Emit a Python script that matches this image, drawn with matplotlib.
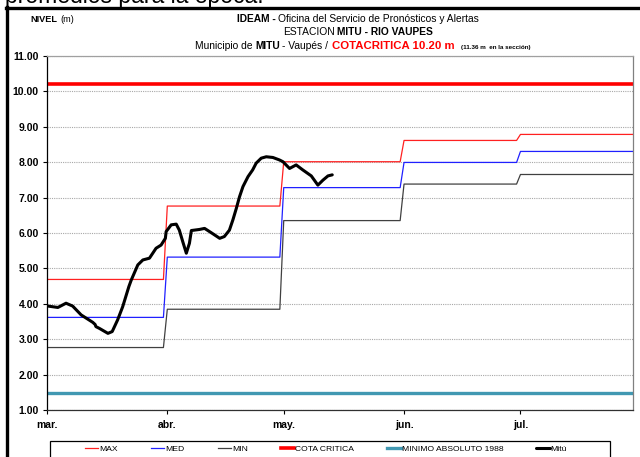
import matplotlib
matplotlib.use("Agg")
import matplotlib.pyplot as plt
from matplotlib.lines import Line2D
from matplotlib.patches import Rectangle

plt.rcParams["font.family"] = ["Liberation Sans Narrow", "Liberation Sans", "DejaVu Sans"]

# days counted from 1 March
month_days = [0, 31, 61, 92, 122]
month_names = ["mar.", "abr.", "may.", "jun.", "jul."]
end_day = 151

# monthly reference levels (m)
nivel_max = [4.69, 6.76, 8.01, 8.61, 8.78]
nivel_med = [3.62, 5.32, 7.28, 7.99, 8.30]
nivel_min = [2.77, 3.85, 6.35, 7.38, 7.65]
cota_critica = 10.20
minimo_1988 = 1.50

# observed level at Mitú
mitu_day = [0.2, 2.8, 4.9, 6.6, 8.8, 11.8, 12.4, 12.6, 13.5, 15.7, 16.8, 18.2,
            19.5, 21.1, 21.7, 23.4, 24.7, 26.4, 28.1, 29.4, 30.5, 30.7, 32.0,
            33.3, 34.1, 35.0, 35.9, 36.7, 37.2, 39.3, 40.6, 42.3, 44.5, 45.7,
            47.0, 47.9, 48.8, 49.6, 50.5, 51.8, 53.0, 53.9, 55.2, 56.5, 58.2,
            59.9, 60.8, 62.5, 64.2, 65.9, 68.1, 69.8, 71.1, 72.4, 73.5]
mitu_nivel = [3.94, 3.90, 4.02, 3.94, 3.69, 3.48, 3.42, 3.36, 3.31, 3.17, 3.22, 3.55,
              3.92, 4.49, 4.67, 5.10, 5.24, 5.29, 5.57, 5.66, 5.85, 6.04, 6.23,
              6.25, 6.08, 5.75, 5.43, 5.71, 6.07, 6.10, 6.13, 6.01, 5.85, 5.90,
              6.08, 6.37, 6.70, 7.02, 7.31, 7.59, 7.78, 7.97, 8.11, 8.15, 8.13,
              8.06, 8.01, 7.82, 7.92, 7.78, 7.61, 7.35, 7.49, 7.61, 7.64]


def monthly_steps(values):
    xs, ys = [], []
    stops = month_days[1:] + [end_day + 1]
    for start, stop, v in zip(month_days, stops, values):
        xs += [start, stop - 1]
        ys += [v, v]
    return xs, ys


W, H = 640, 457
fig = plt.figure(figsize=(W / 100, H / 100), dpi=100)
ax = fig.add_axes([47 / W, 1 - 410.3 / H, (633 - 47) / W, (410.3 - 55.7) / H])

c_max, c_med, c_min = "#ff2020", "#2020ff", "#404040"
c_cota, c_minimo = "#ff0000", "#4198b2"

ax.plot(*monthly_steps(nivel_max), color=c_max, lw=0.9, label="MAX")
ax.plot(*monthly_steps(nivel_med), color=c_med, lw=0.9, label="MED")
ax.plot(*monthly_steps(nivel_min), color=c_min, lw=0.9, label="MIN")
ax.axhline(cota_critica, color=c_cota, lw=2.6, label="COTA CRITICA")
ax.axhline(minimo_1988, color=c_minimo, lw=2.4, label="MINIMO ABSOLUTO 1988")
ax.plot(mitu_day, mitu_nivel, color="black", lw=2.2, solid_capstyle="round",
        solid_joinstyle="round", label="Mitú")

ax.set_xlim(0, end_day)
ax.set_ylim(1, 11)
yt = list(range(1, 12))
ax.set_yticks(yt, labels=[f"{v:.2f}" for v in yt], fontweight="bold",
              fontfamily="Liberation Sans", fontsize=7.5)
ax.set_xticks(month_days, labels=month_names, fontweight="bold",
              fontfamily="Liberation Sans", fontsize=7.5)
ax.tick_params(axis="y", direction="out", length=3, width=0.8, pad=3)
ax.tick_params(axis="x", direction="out", length=3, width=0.8, pad=4)
ax.grid(axis="y", color="#a8a8a8", linestyle=(0, (1, 1)), linewidth=0.8)
ax.set_axisbelow(True)
ax.spines["left"].set_color("black")
ax.spines["bottom"].set_color("#303030")
ax.spines["top"].set_color("#a0a0a0")
ax.spines["right"].set_color("#808080")
for s in ax.spines.values():
    s.set_linewidth(0.9)

# page text cut by the top edge and the frame around the chart
fig.text(5 / W, 1 - 2.5 / H, "promedios para la época.", fontsize=16.5,
         fontfamily="Liberation Sans", va="baseline", ha="left")
fig.add_artist(Line2D([7 / W, 7 / W], [0, 1 - 7 / H], color="black", lw=2.4,
                      transform=fig.transFigure))
fig.add_artist(Line2D([6 / W, 1], [1 - 7.5 / H, 1 - 7.5 / H], color="black", lw=2.4,
                      transform=fig.transFigure))

renderer = fig.canvas.get_renderer()


def draw_runs(x_center, y_base, runs):
    items = []
    for txt, size, weight, color, gap in runs:
        t = fig.text(0, 1 - y_base / H, txt, fontsize=size, fontweight=weight,
                     color=color, va="baseline", ha="left")
        items.append((t, gap))
    widths = [t.get_window_extent(renderer).width + gap for t, gap in items]
    x = x_center - sum(widths) / 2
    for (t, gap), w in zip(items, widths):
        t.set_x(x / W)
        x += w


draw_runs(358, 22, [("IDEAM -", 7.4, "bold", "black", 3),
                    ("Oficina del Servicio de Pronósticos y Alertas", 7.4, "normal", "black", 0)])
draw_runs(358, 35, [("ESTACION", 7.4, "normal", "black", 2),
                    ("MITU - RIO VAUPES", 7.4, "bold", "black", 0)])
draw_runs(363, 49, [("Municipio de", 7.4, "normal", "black", 3),
                    ("MITU", 7.4, "bold", "black", 2),
                    ("- Vaupés /", 7.4, "normal", "black", 4),
                    ("COTACRITICA 10.20 m", 8.2, "bold", c_cota, 6),
                    ("(11.36 m  en la sección)", 4.5, "bold", "black", 0)])

t1 = fig.text(30 / W, 1 - 22 / H, "NIVEL", fontsize=6.6, fontweight="bold",
              va="baseline", ha="left")
wb = t1.get_window_extent(renderer).width
fig.text((30 + wb + 3) / W, 1 - 22 / H, "(m)", fontsize=6.6, va="baseline", ha="left")

# legend below the chart
handles, labels = ax.get_legend_handles_labels()
fig.legend(handles, labels, loc="center", bbox_to_anchor=(326 / W, 1 - 449 / H),
           ncol=6, frameon=False, fontsize=6.1, handlelength=1.6,
           handletextpad=0.1, columnspacing=3.9)
fig.add_artist(Rectangle((50 / W, 1 - 462 / H), 560 / W, 21 / H, fill=False,
                         edgecolor="black", lw=0.9, transform=fig.transFigure,
                         clip_on=False))

fig.savefig("out.png", dpi=100)
